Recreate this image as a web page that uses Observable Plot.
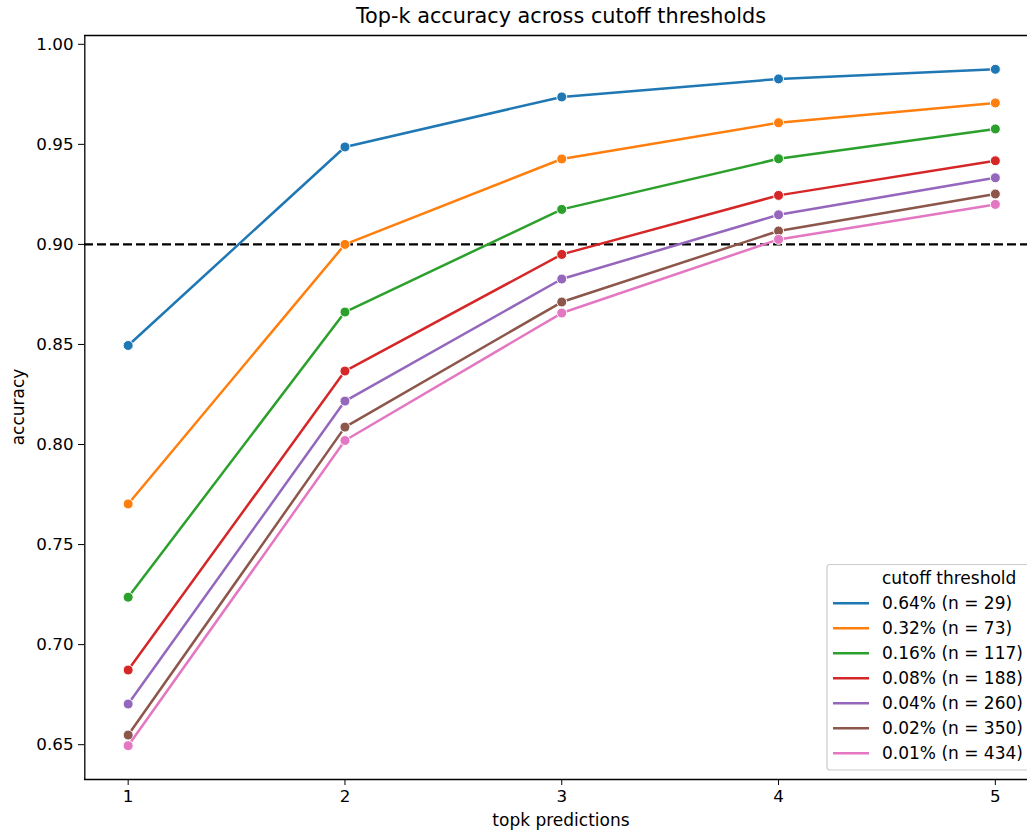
<!DOCTYPE html>
<html>
<head>
<meta charset="utf-8">
<script src="https://cdn.jsdelivr.net/npm/d3@7"></script>
<script src="https://cdn.jsdelivr.net/npm/@observablehq/plot@0.6"></script>
<style>
  html, body { margin: 0; padding: 0; background: #fff; }
  #chart { width: 1027px; height: 831px; overflow: hidden; position: relative; }
</style>
</head>
<body>
<div id="chart"></div>
<script>
const topk = [1, 2, 3, 4, 5];
const xTicks = [1, 2, 3, 4, 5];
const yTicks = [0.65, 0.70, 0.75, 0.80, 0.85, 0.90, 0.95, 1.00];
const seriesLabels = [
  "0.64% (n = 29)",
  "0.32% (n = 73)",
  "0.16% (n = 117)",
  "0.08% (n = 188)",
  "0.04% (n = 260)",
  "0.02% (n = 350)",
  "0.01% (n = 434)"
];
const colors = ["#1f77b4", "#ff7f0e", "#2ca02c", "#d62728", "#9467bd", "#8c564b", "#e377c2"];
const acc064 = [0.8495, 0.9487, 0.9737, 0.9827, 0.9875];
const acc032 = [0.7703, 0.9000, 0.9427, 0.9608, 0.9707];
const acc016 = [0.7237, 0.8662, 0.9175, 0.9428, 0.9577];
const acc008 = [0.6873, 0.8367, 0.8950, 0.9245, 0.9418];
const acc004 = [0.6703, 0.8217, 0.8827, 0.9148, 0.9333];
const acc002 = [0.6548, 0.8087, 0.8712, 0.9067, 0.9252];
const acc001 = [0.6495, 0.8020, 0.8657, 0.9025, 0.9200];
const threshold = 0.90;
const titleText = "Top-k accuracy across cutoff thresholds";
const xLabel = "topk predictions";
const yLabel = "accuracy";
const legendTitle = "cutoff threshold";

const allSeries = [acc064, acc032, acc016, acc008, acc004, acc002, acc001];
const table = allSeries.map((vals, i) =>
  vals.map((v, j) => ({k: topk[j], acc: v, series: seriesLabels[i], color: colors[i]}))
);

const W = 1027, H = 831;
const mLeft = 84, mTop = 35, yBottom = 779;
const FONT = "DejaVu Sans, sans-serif";
const FS = 17;

const marks = [
  Plot.ruleY([threshold], {stroke: "#000", strokeWidth: 2.2, strokeDasharray: "9,4"})
];
table.forEach((rows, i) => {
  marks.push(Plot.line(rows, {x: "k", y: "acc", stroke: colors[i], strokeWidth: 2.5}));
  marks.push(Plot.dot(rows, {x: "k", y: "acc", fill: colors[i], stroke: "#fff", strokeWidth: 1, r: 5}));
});
marks.push(
  Plot.axisX({ticks: xTicks, tickFormat: d3.format("d"), tickSize: 6, tickPadding: 5, label: null, stroke: "#000", fill: "#000"}),
  Plot.axisY({ticks: yTicks, tickFormat: d3.format(".2f"), tickSize: 6, tickPadding: 5, label: null, stroke: "#000", fill: "#000"}),
  Plot.ruleX([0.8], {stroke: "#000", strokeWidth: 1.3}),
  Plot.ruleY([1.0044, 0.6326], {stroke: "#000", strokeWidth: 1.3})
);

const plot = Plot.plot({
  width: W,
  height: H,
  marginLeft: mLeft,
  marginTop: mTop,
  marginBottom: H - yBottom,
  marginRight: 0,
  x: {domain: [0.8, 5.2], range: [84.3, 1038.2]},
  y: {domain: [0.6326, 1.0044], range: [yBottom, mTop]},
  style: {fontFamily: FONT, fontSize: "16.7px", color: "#000", background: "#fff", overflow: "hidden"},
  marks
});
document.getElementById("chart").appendChild(plot);

const svg = d3.select(plot);
svg.append("text").attr("x", 561).attr("y", 23).attr("text-anchor", "middle")
  .style("font-family", FONT).style("font-size", "20.8px").attr("fill", "#000").text(titleText);
svg.append("text").attr("x", 561).attr("y", 826).attr("text-anchor", "middle")
  .style("font-family", FONT).style("font-size", FS + "px").attr("fill", "#000").text(xLabel);
svg.append("text").attr("transform", "translate(24,407) rotate(-90)").attr("text-anchor", "middle")
  .style("font-family", FONT).style("font-size", FS + "px").attr("fill", "#000").text(yLabel);

// legend
const lg = svg.append("g").attr("text-anchor", "start");
lg.append("rect").attr("x", 827).attr("y", 564.5).attr("width", 215).attr("height", 205.5).attr("rx", 3)
  .attr("fill", "#fff").attr("fill-opacity", 0.8).attr("stroke", "#cccccc").attr("stroke-width", 1.2);
lg.append("text").attr("x", 882).attr("y", 583.5).attr("text-anchor", "start")
  .style("font-family", FONT).style("font-size", FS + "px").attr("fill", "#000").text(legendTitle);
seriesLabels.forEach((lab, i) => {
  const cy = 603.3 + i * 25;
  lg.append("line").attr("x1", 833).attr("x2", 869).attr("y1", cy).attr("y2", cy)
    .attr("stroke", colors[i]).attr("stroke-width", 2.5);
  lg.append("text").attr("x", 882).attr("y", cy + 6).attr("text-anchor", "start")
    .style("font-family", FONT).style("font-size", FS + "px").attr("fill", "#000").text(lab);
});
</script>
</body>
</html>
